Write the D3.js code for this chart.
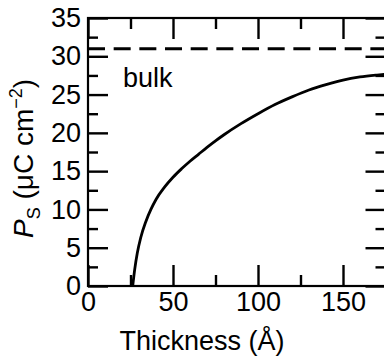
<!DOCTYPE html>
<html>
<head>
<meta charset="utf-8">
<script src="https://cdn.jsdelivr.net/npm/d3@7"></script>
<style>
  body { margin: 0; background: #fff; }
  svg text { font-family: "Liberation Sans", Arial, Helvetica, sans-serif; fill: #000; }
</style>
</head>
<body>
<div id="vis"></div>
<script>
// data
const thickness = [26.3, 27.5, 29, 31, 34, 37, 40, 45, 50, 55, 60, 65, 70, 75, 80, 90, 100, 110, 120, 130, 140, 150, 160, 170, 175];
const polarization = [0, 2.2, 4.3, 6.3, 8.4, 10.0, 11.3, 12.9, 14.2, 15.3, 16.3, 17.2, 18.1, 18.95, 19.75, 21.2, 22.5, 23.7, 24.7, 25.6, 26.3, 26.9, 27.3, 27.55, 27.65];
const bulkValue = 31;
const xTicks = [0, 50, 100, 150];
const xMinor = [25, 75, 125, 175];
const yTicks = [0, 5, 10, 15, 20, 25, 30, 35];
const yMinor = [2.5, 7.5, 12.5, 17.5, 22.5, 27.5, 32.5];

const W = 384, H = 356;
const svg = d3.select("#vis").append("svg")
  .attr("width", W)
  .attr("height", H);

const x = d3.scaleLinear().domain([0, 175]).range([88, 385.5]);
const y = d3.scaleLinear().domain([0, 35]).range([286, 18]);

const fontSize = 27;

// frame
svg.append("rect")
  .attr("x", x(0)).attr("y", y(35))
  .attr("width", x(175) - x(0)).attr("height", y(0) - y(35))
  .attr("fill", "none").attr("stroke", "#000").attr("stroke-width", 2.2);

function styleAxis(g) {
  g.select(".domain").remove();
  g.selectAll(".tick line").attr("stroke", "#000").attr("stroke-width", 2.4);
  g.selectAll(".tick text").attr("font-size", fontSize).attr("font-family", null);
}

// bottom
svg.append("g").attr("transform", `translate(0,${y(0)})`)
  .call(d3.axisBottom(x).tickValues(xTicks).tickSize(-21).tickPadding(6).tickFormat(d3.format("d")))
  .call(styleAxis);
svg.append("g").attr("transform", `translate(0,${y(0)})`)
  .call(d3.axisBottom(x).tickValues(xMinor).tickSize(-11).tickFormat(""))
  .call(styleAxis);
// top
svg.append("g").attr("transform", `translate(0,${y(35)})`)
  .call(d3.axisTop(x).tickValues(xTicks).tickSize(-21).tickFormat(""))
  .call(styleAxis);
svg.append("g").attr("transform", `translate(0,${y(35)})`)
  .call(d3.axisTop(x).tickValues(xMinor).tickSize(-11).tickFormat(""))
  .call(styleAxis);
// left
svg.append("g").attr("transform", `translate(${x(0)},0)`)
  .call(d3.axisLeft(y).tickValues(yTicks).tickSize(-20).tickPadding(7).tickFormat(d3.format("d")))
  .call(styleAxis);
svg.append("g").attr("transform", `translate(${x(0)},0)`)
  .call(d3.axisLeft(y).tickValues(yMinor).tickSize(-10).tickFormat(""))
  .call(styleAxis);
// right
svg.append("g").attr("transform", `translate(${x(175)},0)`)
  .call(d3.axisRight(y).tickValues(yTicks).tickSize(-20).tickFormat(""))
  .call(styleAxis);
svg.append("g").attr("transform", `translate(${x(175)},0)`)
  .call(d3.axisRight(y).tickValues(yMinor).tickSize(-10).tickFormat(""))
  .call(styleAxis);

// bulk dashed line
svg.append("line")
  .attr("x1", x(0)).attr("x2", x(175))
  .attr("y1", y(bulkValue)).attr("y2", y(bulkValue))
  .attr("stroke", "#000").attr("stroke-width", 3)
  .attr("stroke-dasharray", "17,8.67");

svg.append("text")
  .attr("x", 123).attr("y", 87)
  .attr("font-size", fontSize)
  .text("bulk");

// curve
const pts = thickness.map((t, i) => [t, polarization[i]]);
const line = d3.line()
  .x(d => x(d[0]))
  .y(d => y(d[1]))
  .curve(d3.curveMonotoneX);

svg.append("path")
  .datum(pts)
  .attr("d", line)
  .attr("fill", "none")
  .attr("stroke", "#000")
  .attr("stroke-width", 2.8);

// x title
svg.append("text")
  .attr("x", 202).attr("y", 350)
  .attr("text-anchor", "middle")
  .attr("font-size", fontSize)
  .text("Thickness (Å)");

// y title
const yt = svg.append("text")
  .attr("transform", "translate(33,238) rotate(-90)")
  .attr("font-size", 28);
yt.append("tspan").attr("font-style", "italic").text("P");
yt.append("tspan").attr("font-size", 18).attr("dy", 7).text("S");
yt.append("tspan").attr("dy", -7).text(" (μC cm");
yt.append("tspan").attr("font-size", 18).attr("dy", -11).text("−2");
yt.append("tspan").attr("dy", 11).text(")");
</script>
</body>
</html>
